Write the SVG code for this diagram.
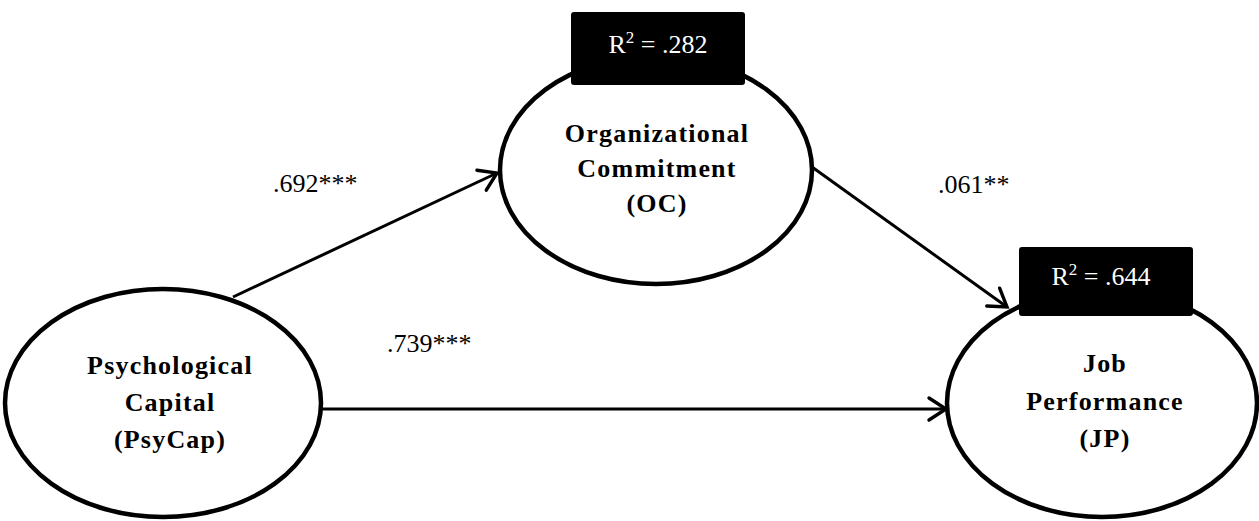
<svg xmlns="http://www.w3.org/2000/svg" width="1259" height="521" viewBox="0 0 1259 521">
<style>
.node{fill:#fff;stroke:#000;stroke-width:4.5}
.lbl{font-family:"Liberation Serif","Times New Roman",serif;font-weight:bold;font-size:26px;letter-spacing:1.2px;text-anchor:middle;fill:#000}
.coef{font-family:"Liberation Serif","Times New Roman",serif;font-size:26px;fill:#000}
.r2box{fill:#000}
.r2{font-family:"Liberation Serif","Times New Roman",serif;font-size:26px;fill:#fff;text-anchor:middle}
.edge{stroke:#000;stroke-width:3;fill:none;marker-end:url(#arr)}
</style>
<defs>
<marker id="arr" markerUnits="userSpaceOnUse" markerWidth="30" markerHeight="30" viewBox="-24 -15 30 30" refX="0" refY="0" orient="auto">
<path d="M-17,-11 L0,0 L-17,11" fill="none" stroke="#000" stroke-width="3.4" stroke-linecap="round" stroke-linejoin="miter"/>
</marker>
</defs>
<rect width="1259" height="521" fill="#fff"/>
<g id="connectors">
<line class="edge" x1="233" y1="297" x2="497" y2="173"/>
<line class="edge" x1="812" y1="167" x2="1007" y2="307"/>
<line class="edge" x1="321" y1="409" x2="946" y2="409"/>
</g>
<g id="labels">
<text class="coef" x="273" y="192">.692***</text>
<text class="coef" x="938" y="193">.061**</text>
<text class="coef" x="387" y="352">.739***</text>
</g>
<g id="psycap">
<ellipse class="node" cx="163" cy="403" rx="158" ry="114"/>
<text class="lbl" x="170" y="374">Psychological</text>
<text class="lbl" x="170" y="411">Capital</text>
<text class="lbl" x="170" y="448">(PsyCap)</text>
</g>
<g id="oc">
<ellipse class="node" cx="656" cy="170" rx="156" ry="114"/>
<text class="lbl" x="657" y="142">Organizational</text>
<text class="lbl" x="657" y="177">Commitment</text>
<text class="lbl" x="657" y="212">(OC)</text>
<rect class="r2box" x="571" y="12" width="174" height="73" rx="3"/>
<text class="r2" x="658" y="53">R<tspan font-size="17" dy="-10">2</tspan><tspan dy="10"> = .282</tspan></text>
</g>
<g id="jp">
<ellipse class="node" cx="1102" cy="403" rx="155" ry="114"/>
<text class="lbl" x="1105" y="372">Job</text>
<text class="lbl" x="1105" y="410">Performance</text>
<text class="lbl" x="1105" y="447">(JP)</text>
<rect class="r2box" x="1019" y="247" width="174" height="69" rx="3"/>
<text class="r2" x="1101" y="285">R<tspan font-size="17" dy="-10">2</tspan><tspan dy="10"> = .644</tspan></text>
</g>
</svg>
